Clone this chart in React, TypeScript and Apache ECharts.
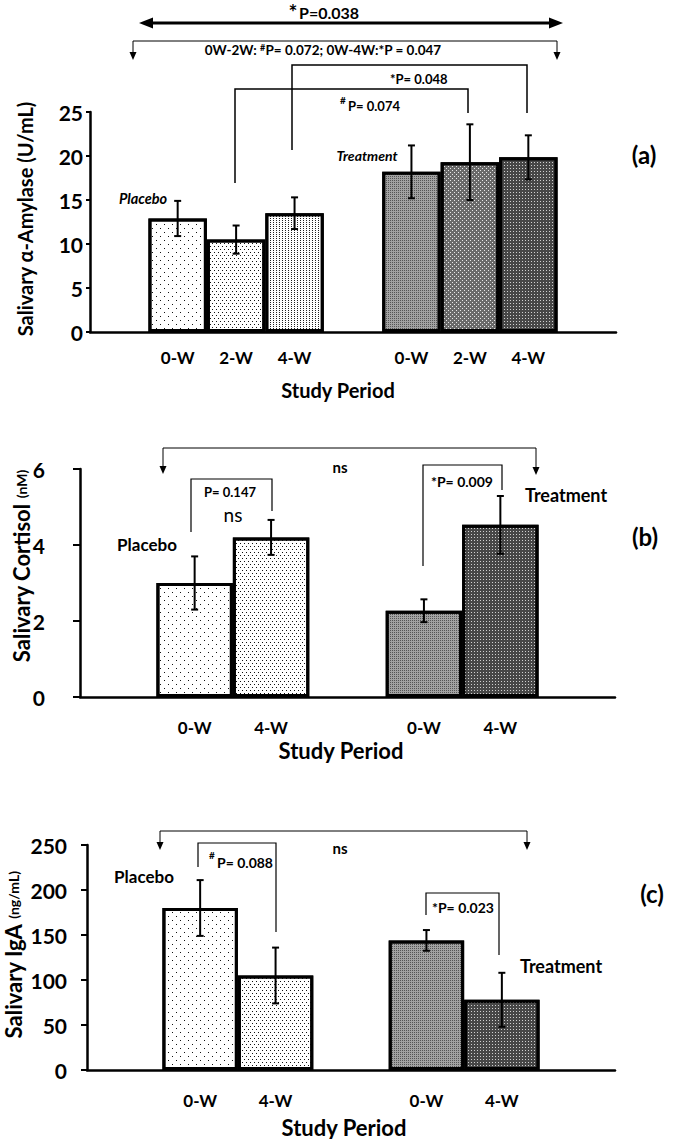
import React, { useEffect, useRef } from 'react';
import * as echarts from 'echarts';

// ---------- data ----------
const categoriesA = ['gapA1', 'Placebo 0-W', 'Placebo 2-W', 'Placebo 4-W', 'gapA2', 'Treatment 0-W', 'Treatment 2-W', 'Treatment 4-W', 'gapA3'];
const amylaseMean = [null, 12.9, 10.5, 13.5, null, 18.2, 19.3, 19.85, null];
const amylaseErr = [null, 2.0, 1.6, 1.8, null, 3.0, 4.3, 2.5, null];

const categoriesB = ['gapB1', 'Placebo 0-W', 'Placebo 4-W', 'gapB2', 'Treatment 0-W', 'Treatment 4-W', 'gapB3'];
const cortisolMean = [null, 3.0, 4.2, null, 2.27, 4.53, null];
const cortisolErr = [null, 0.7, 0.46, null, 0.3, 0.76, null];

const categoriesC = ['gapC1', 'Placebo 0-W', 'Placebo 4-W', 'gapC2', 'Treatment 0-W', 'Treatment 4-W', 'gapC3'];
const igaMean = [null, 180, 105, null, 144, 78, null];
const igaErr = [null, 31, 31, null, 11.5, 30, null];

const yMaxA = 25, yStepA = 5;
const yMaxB = 6, yStepB = 2;
const yMaxC = 250, yStepC = 50;

// ---------- styles ----------
const FONT = 'Lato, "DejaVu Sans", sans-serif';

const FILLS: Record<string, any> = {
  sparse: { color: '#ffffff', decal: { symbol: 'rect', symbolSize: 1, color: '#111', dashArrayX: [[1, 7], [0, 4, 1, 3]], dashArrayY: [1, 3] } },
  medium: { color: '#ffffff', decal: { symbol: 'rect', symbolSize: 1, color: '#111', dashArrayX: [[1, 3], [0, 2, 1, 1]], dashArrayY: [1, 2] } },
  dense: { color: '#ffffff', decal: { symbol: 'rect', symbolSize: 1, color: '#222', dashArrayX: [[1, 2]], dashArrayY: [1, 1] } },
  gray: { color: '#a2a2a2', decal: { symbol: 'rect', symbolSize: 1, color: '#555', dashArrayX: [[1, 1]], dashArrayY: [1, 1] } },
  diamond: { color: '#6a6a6a', decal: { symbol: 'rect', symbolSize: 1, color: '#e8e8e8', dashArrayX: [[1, 3], [0, 2, 1, 1]], dashArrayY: [1, 1] } },
  dark: { color: '#474747', decal: { symbol: 'rect', symbolSize: 1, color: '#d0d0d0', dashArrayX: [[1, 2]], dashArrayY: [1, 2] } },
};
const fillA = ['', 'sparse', 'medium', 'dense', '', 'gray', 'diamond', 'dark', ''];
const fillBC = ['', 'sparse', 'medium', '', 'gray', 'dark', ''];

function barData(values: (number | null)[], fills: string[]) {
  return values.map((v, i) => {
    if (v === null) return '-';
    const f = FILLS[fills[i]];
    return { value: v, itemStyle: { color: f.color, decal: f.decal, borderColor: '#000', borderWidth: 3 } };
  });
}
function errData(values: (number | null)[], errs: (number | null)[]) {
  const out: number[][] = [];
  values.forEach((v, i) => {
    if (v !== null && errs[i] !== null) out.push([i, v, errs[i] as number]);
  });
  return out;
}

const errRender = (params: any, api: any) => {
  const i = api.value(0), m = api.value(1), e = api.value(2);
  const hi = api.coord([i, m + e]);
  const lo = api.coord([i, m - e]);
  const w = 3.5;
  const st = { stroke: '#000', lineWidth: 2 };
  return {
    type: 'group',
    children: [
      { type: 'line', shape: { x1: hi[0], y1: hi[1], x2: lo[0], y2: lo[1] }, style: st },
      { type: 'line', shape: { x1: hi[0] - w, y1: hi[1], x2: hi[0] + w, y2: hi[1] }, style: st },
      { type: 'line', shape: { x1: lo[0] - w, y1: lo[1], x2: lo[0] + w, y2: lo[1] }, style: st },
    ],
  };
};

const catLabel = (v: string) => (v.startsWith('gap') ? '' : v.split(' ')[1]);

function xAxis(gridIndex: number, data: string[], margin: number) {
  return {
    type: 'category', gridIndex, data, boundaryGap: true,
    axisLine: { lineStyle: { color: '#000', width: 2.5 } },
    axisTick: { show: false },
    axisLabel: { interval: 0, formatter: catLabel, margin, fontFamily: FONT, fontWeight: 'bold', fontSize: 17, color: '#000' },
  };
}
function yAxis(gridIndex: number, max: number, step: number, margin: number, tickLen: number) {
  return {
    type: 'value', gridIndex, min: 0, max, interval: step,
    splitLine: { show: false },
    axisLine: { show: true, lineStyle: { color: '#000', width: 2.5 } },
    axisTick: { show: true, length: tickLen, lineStyle: { color: '#000', width: 2 } },
    axisLabel: { margin, fontFamily: FONT, fontWeight: 'bold', fontSize: 21, color: '#000' },
  };
}

// ---------- annotation helpers ----------
const T = (x: number, y: number, text: string, size: number, extra: any = {}) => ({
  type: 'text', x, y, silent: true,
  style: { text, fontSize: size, fontFamily: FONT, fontWeight: 'bold', fill: '#000', align: 'center', verticalAlign: 'middle', ...extra },
});
const PL = (points: number[][], lw = 1.2) => ({
  type: 'polyline', silent: true, shape: { points }, style: { stroke: '#000', lineWidth: lw, fill: null },
});
const downArrow = (x: number, tip: number) => ({
  type: 'polygon', silent: true, shape: { points: [[x, tip], [x - 3.5, tip - 8], [x + 3.5, tip - 8]] }, style: { fill: '#000' },
});
const VT = (x: number, y: number, text: string, rich: any, size = 20) => ({
  type: 'text', x, y, rotation: Math.PI / 2, silent: true,
  style: { text, rich, fontSize: size, fontFamily: FONT, fontWeight: 'bold', fill: '#000', align: 'center', verticalAlign: 'middle' },
});
const titleRich = {
  a: { fontSize: 22, fontFamily: FONT, fontWeight: 'bold' },
  b: { fontSize: 14, fontFamily: FONT, fontWeight: 'bold' },
};

const graphics: any[] = [
  // ----- panel (a)
  T(293, 1, '*', 21, { verticalAlign: 'top' }),
  T(299, 12, 'P=0.038', 16, { align: 'left' }),
  { type: 'line', silent: true, shape: { x1: 150, y1: 23, x2: 552, y2: 23 }, style: { stroke: '#000', lineWidth: 3 } },
  { type: 'polygon', silent: true, shape: { points: [[139, 23], [153, 17.5], [153, 28.5]] }, style: { fill: '#000' } },
  { type: 'polygon', silent: true, shape: { points: [[563, 23], [549, 17.5], [549, 28.5]] }, style: { fill: '#000' } },
  PL([[133, 53], [133, 41], [557, 41], [557, 53]], 1),
  downArrow(133, 60), downArrow(557, 60),
  T(323, 50, '0W-2W: {s|#}P= 0.072; 0W-4W:*P = 0.047', 13.5, {
    rich: { s: { fontSize: 9, fontFamily: FONT, fontWeight: 'bold', verticalAlign: 'top' } },
  }),
  PL([[292, 150], [292, 65], [527, 65], [527, 113]], 1.5),
  T(390, 79, '*P= 0.048', 13, { align: 'left' }),
  PL([[235, 183], [235, 89], [468, 89], [468, 113]], 1.5),
  T(340, 100, '#', 10, { align: 'left' }),
  T(348, 106, 'P= 0.074', 13, { align: 'left' }),
  T(143, 198, 'Placebo', 14.5, { fontStyle: 'italic' }),
  T(367, 155, 'Treatment', 14, { fontStyle: 'italic' }),
  T(644, 154, '(a)', 24),
  T(338, 390, 'Study Period', 20),
  VT(25, 219, 'Salivary α-Amylase (U/mL)', {}, 20),
  // ----- panel (b)
  PL([[163, 467], [163, 448], [536, 448], [536, 467]], 1),
  downArrow(163, 474), downArrow(536, 475),
  T(340, 467, 'ns', 15),
  PL([[191, 532], [191, 479], [272, 479], [272, 511]], 1.2),
  T(230, 492, 'P= 0.147', 13),
  T(233, 514, 'ns', 19, { fontWeight: 'normal' }),
  T(147, 544, 'Placebo', 17),
  PL([[423, 566], [423, 465], [502, 465], [502, 490]], 1.2),
  T(431, 481, '*P= 0.009', 14, { align: 'left' }),
  T(566, 495, 'Treatment', 18),
  T(645, 536, '(b)', 24),
  T(341, 750, 'Study Period', 22),
  VT(21, 566, '{a|Salivary Cortisol }{b|(nM)}', titleRich),
  // ----- panel (c)
  PL([[160, 843], [160, 831], [527, 831], [527, 843]], 1),
  downArrow(160, 850), downArrow(527, 850),
  T(340, 848, 'ns', 15),
  PL([[198, 867], [198, 843], [276, 843], [276, 932]], 1.2),
  T(209, 855, '#', 10, { align: 'left' }),
  T(217, 862, 'P= 0.088', 14, { align: 'left' }),
  T(144, 876, 'Placebo', 17),
  PL([[426, 915], [426, 893], [499, 893], [499, 955]], 1.2),
  T(432, 907, '*P= 0.023', 14, { align: 'left' }),
  T(561, 966, 'Treatment', 18),
  T(652, 893, '(c)', 24),
  T(344, 1127, 'Study Period', 22),
  VT(13, 955, '{a|Salivary IgA }{b|(ng/mL)}', titleRich),
];

const option: any = {
  animation: false,
  backgroundColor: '#ffffff',
  grid: [
    { left: 90, top: 112, width: 526, height: 220 },
    { left: 80, top: 469, width: 535, height: 228 },
    { left: 87, top: 845, width: 528, height: 225 },
  ],
  xAxis: [xAxis(0, categoriesA, 17), xAxis(1, categoriesB, 22), xAxis(2, categoriesC, 22)],
  yAxis: [yAxis(0, yMaxA, yStepA, 7, 4), yAxis(1, yMaxB, yStepB, 35, 7), yAxis(2, yMaxC, yStepC, 20, 6)],
  series: [
    { type: 'bar', xAxisIndex: 0, yAxisIndex: 0, barCategoryGap: '0%', data: barData(amylaseMean, fillA) },
    { type: 'bar', xAxisIndex: 1, yAxisIndex: 1, barCategoryGap: '0%', data: barData(cortisolMean, fillBC) },
    { type: 'bar', xAxisIndex: 2, yAxisIndex: 2, barCategoryGap: '0%', data: barData(igaMean, fillBC) },
    { type: 'custom', xAxisIndex: 0, yAxisIndex: 0, z: 5, renderItem: errRender, encode: { x: 0, y: 1 }, data: errData(amylaseMean, amylaseErr) },
    { type: 'custom', xAxisIndex: 1, yAxisIndex: 1, z: 5, renderItem: errRender, encode: { x: 0, y: 1 }, data: errData(cortisolMean, cortisolErr) },
    { type: 'custom', xAxisIndex: 2, yAxisIndex: 2, z: 5, renderItem: errRender, encode: { x: 0, y: 1 }, data: errData(igaMean, igaErr) },
  ],
  graphic: graphics,
};

export default function App() {
  const ref = useRef<HTMLDivElement>(null);
  useEffect(() => {
    document.body.style.margin = '0';
    const chart = echarts.init(ref.current as HTMLDivElement, null, { renderer: 'svg' });
    chart.setOption(option);
    return () => chart.dispose();
  }, []);
  return <div ref={ref} style={{ width: 685, height: 1139 }} />;
}
